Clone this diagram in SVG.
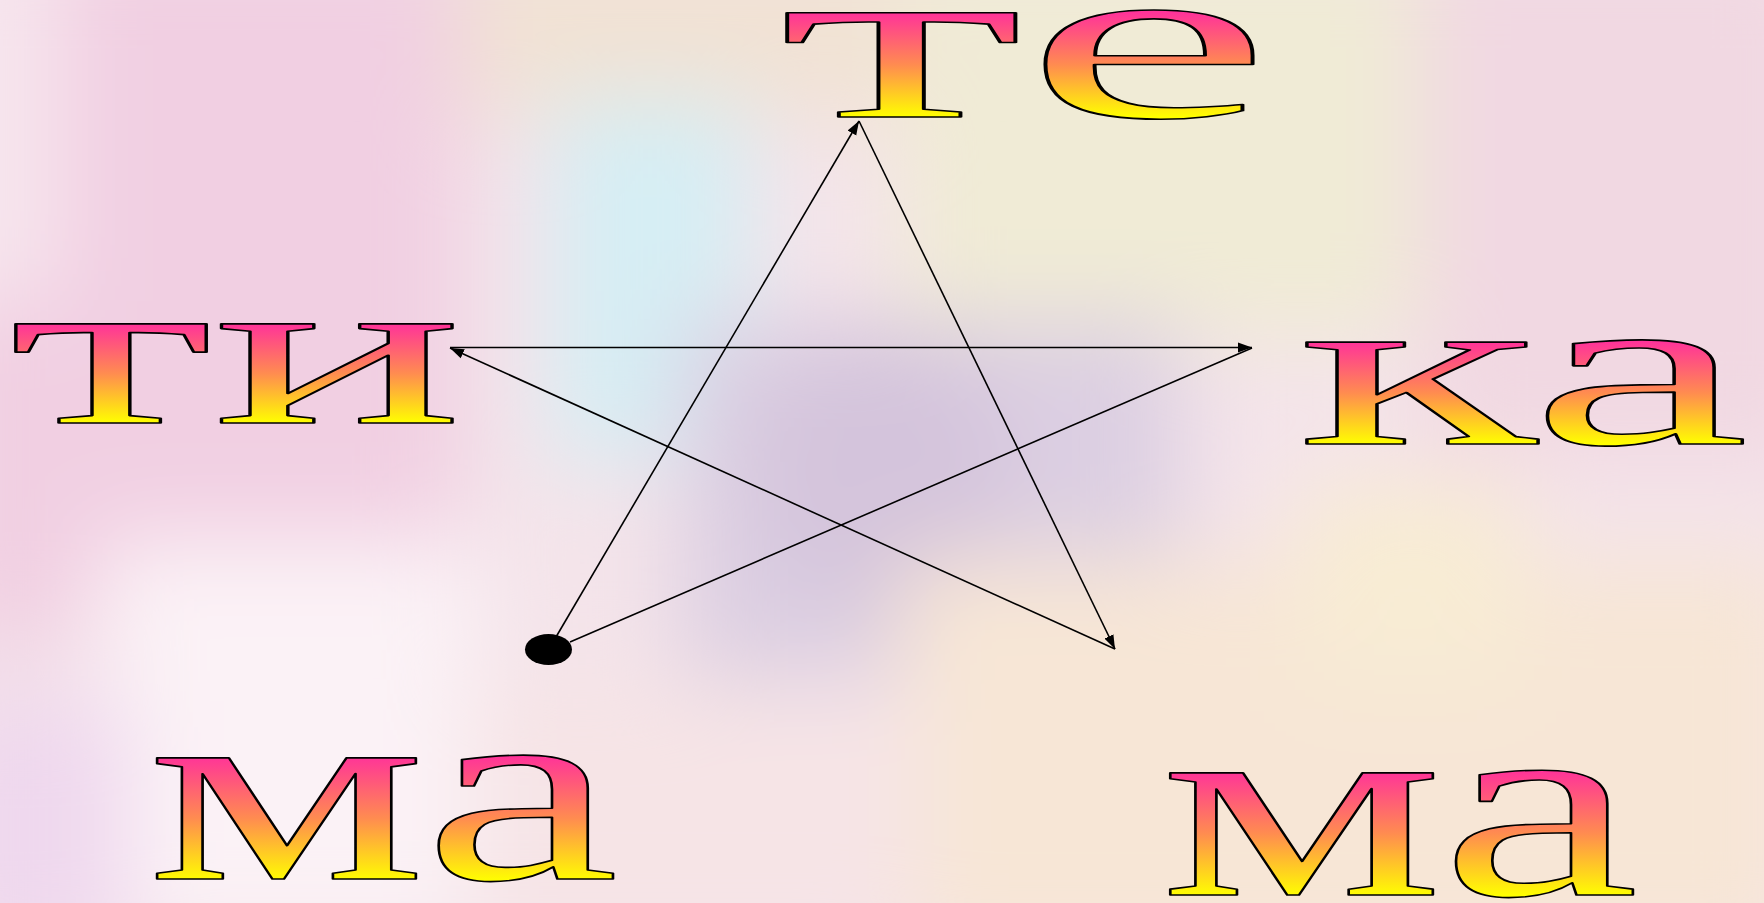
<svg xmlns="http://www.w3.org/2000/svg" width="1764" height="903" viewBox="0 0 1764 903">
<defs>
<filter id="blur" x="-20%" y="-20%" width="140%" height="140%"><feGaussianBlur stdDeviation="45"/></filter>
<linearGradient id="g1" gradientUnits="userSpaceOnUse" x1="0" y1="13" x2="0" y2="117"><stop offset="0" stop-color="#ff3399"/><stop offset="0.5" stop-color="#ff8c50"/><stop offset="1" stop-color="#ffff00"/></linearGradient>
<linearGradient id="g2" gradientUnits="userSpaceOnUse" x1="0" y1="324" x2="0" y2="423"><stop offset="0" stop-color="#ff3399"/><stop offset="0.5" stop-color="#ff8c50"/><stop offset="1" stop-color="#ffff00"/></linearGradient>
<linearGradient id="g3" gradientUnits="userSpaceOnUse" x1="0" y1="342" x2="0" y2="444"><stop offset="0" stop-color="#ff3399"/><stop offset="0.5" stop-color="#ff8c50"/><stop offset="1" stop-color="#ffff00"/></linearGradient>
<linearGradient id="g4" gradientUnits="userSpaceOnUse" x1="0" y1="756" x2="0" y2="881"><stop offset="0" stop-color="#ff3399"/><stop offset="0.5" stop-color="#ff8c50"/><stop offset="1" stop-color="#ffff00"/></linearGradient>
<linearGradient id="g5" gradientUnits="userSpaceOnUse" x1="0" y1="771" x2="0" y2="896"><stop offset="0" stop-color="#ff3399"/><stop offset="0.5" stop-color="#ff8c50"/><stop offset="1" stop-color="#ffff00"/></linearGradient>
<marker id="arr" markerUnits="userSpaceOnUse" markerWidth="16" markerHeight="12" refX="14" refY="5" orient="auto" viewBox="0 0 16 10"><path d="M0,0 L14,5 L0,10 Z" fill="#000"/></marker>
<style>
.w{font-family:"Liberation Serif","Times New Roman",serif;stroke:#000;stroke-width:1.6;stroke-linejoin:round}
.c{fill:none;stroke:#000;stroke-width:1.6}
</style>
</defs>
<g id="background">
<rect x="0" y="0" width="1764" height="903" fill="#f4e4ea"/>
<g filter="url(#blur)">
<rect x="-60" y="-60" width="520" height="700" fill="#f1cfe2"/>
<rect x="-60" y="-60" width="120" height="360" fill="#f7e6ee"/>
<rect x="460" y="-60" width="450" height="180" fill="#f1e2d4"/>
<rect x="550" y="100" width="200" height="360" fill="#d6eef4"/>
<rect x="900" y="-60" width="520" height="400" fill="#f0ebd6"/>
<rect x="1420" y="-60" width="400" height="520" fill="#f1d8e2"/>
<rect x="680" y="320" width="500" height="360" fill="#dccfe2"/>
<ellipse cx="880" cy="470" rx="130" ry="140" fill="#d4c4dc"/>
<rect x="100" y="540" width="380" height="400" fill="#fbf2f6"/>
<rect x="900" y="560" width="900" height="400" fill="#f7e6d6"/>
<rect x="1300" y="480" width="220" height="200" fill="#f8ecd4"/>
<rect x="-60" y="700" width="190" height="260" fill="#efd8ee"/>
<rect x="470" y="680" width="450" height="260" fill="#f6e4e6"/>
</g>
</g>
<g id="connectors">
<line class="c" x1="556" y1="637" x2="859" y2="121" marker-end="url(#arr)"/>
<line class="c" x1="859" y1="121" x2="1115" y2="649" marker-end="url(#arr)"/>
<line class="c" x1="1115" y1="649" x2="450" y2="348" marker-end="url(#arr)"/>
<line class="c" x1="450" y1="347.5" x2="1252" y2="347.5" marker-end="url(#arr)"/>
<line class="c" x1="1252" y1="348" x2="570" y2="642"/>
</g>
<g id="start-dot"><ellipse cx="548.5" cy="649.5" rx="23.5" ry="15.5" fill="#000"/></g>
<g id="node-te"><text class="w" x="779" y="117" font-size="227" fill="url(#g1)" textLength="493" lengthAdjust="spacingAndGlyphs">те</text></g>
<g id="node-ti"><text class="w" x="9" y="423" font-size="216" fill="url(#g2)" textLength="454" lengthAdjust="spacingAndGlyphs">ти</text></g>
<g id="node-ka"><text class="w" x="1298" y="444" font-size="222" fill="url(#g3)" textLength="451" lengthAdjust="spacingAndGlyphs">ка</text></g>
<g id="node-ma-left"><text class="w" x="147" y="879" font-size="264" fill="url(#g4)" textLength="472" lengthAdjust="spacingAndGlyphs">ма</text></g>
<g id="node-ma-right"><text class="w" x="1160" y="895" font-size="266" fill="url(#g5)" textLength="479" lengthAdjust="spacingAndGlyphs">ма</text></g>
</svg>
